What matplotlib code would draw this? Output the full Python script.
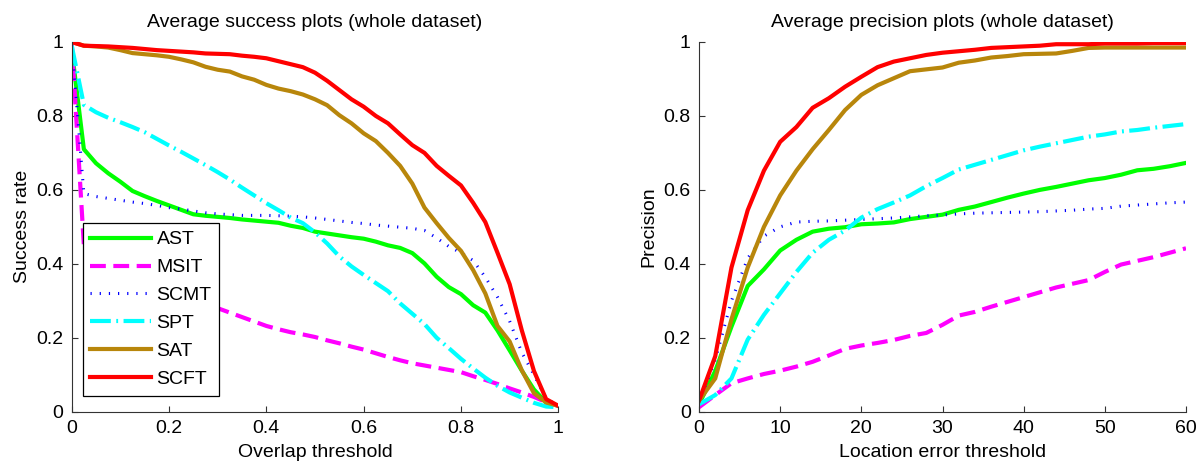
import matplotlib
matplotlib.use("Agg")
import matplotlib.pyplot as plt
import numpy as np

plt.rcParams["font.family"] = ["Liberation Sans", "DejaVu Sans"]

methods = ["AST", "MSIT", "SCMT", "SPT", "SAT", "SCFT"]

# success plot: overlap thresholds 0..1, step 0.025
overlap = np.linspace(0, 1, 41)
success = {
    "AST": [0.98, 0.71, 0.672, 0.645, 0.622, 0.597, 0.583, 0.57, 0.558, 0.546,
            0.534, 0.53, 0.527, 0.524, 0.52, 0.517, 0.514, 0.511, 0.503, 0.497,
            0.487, 0.482, 0.477, 0.472, 0.468, 0.46, 0.45, 0.443, 0.429, 0.401,
            0.365, 0.337, 0.318, 0.288, 0.268, 0.22, 0.166, 0.111, 0.06, 0.025, 0.016],
    "MSIT": [1.0, 0.45, 0.41, 0.39, 0.375, 0.365, 0.355, 0.345, 0.335, 0.322,
             0.31, 0.297, 0.28, 0.268, 0.256, 0.244, 0.232, 0.223, 0.215, 0.209,
             0.202, 0.193, 0.185, 0.176, 0.168, 0.158, 0.148, 0.139, 0.131, 0.125,
             0.119, 0.113, 0.107, 0.096, 0.086, 0.075, 0.063, 0.052, 0.04, 0.026, 0.016],
    "SCMT": [1.0, 0.59, 0.582, 0.577, 0.572, 0.567, 0.563, 0.558, 0.552, 0.548,
             0.543, 0.538, 0.535, 0.533, 0.531, 0.531, 0.531, 0.53, 0.529, 0.527,
             0.524, 0.52, 0.516, 0.512, 0.509, 0.505, 0.502, 0.499, 0.496, 0.49,
             0.47, 0.447, 0.43, 0.409, 0.364, 0.31, 0.245, 0.16, 0.1, 0.035, 0.016],
    "SPT": [0.99, 0.83, 0.81, 0.795, 0.783, 0.77, 0.756, 0.738, 0.72, 0.703,
            0.685, 0.667, 0.648, 0.628, 0.606, 0.585, 0.564, 0.545, 0.525, 0.51,
            0.485, 0.455, 0.42, 0.393, 0.37, 0.348, 0.326, 0.293, 0.265, 0.237,
            0.2, 0.172, 0.143, 0.117, 0.092, 0.07, 0.052, 0.038, 0.024, 0.014, 0.012],
    "SAT": [1.0, 0.99, 0.988, 0.985, 0.978, 0.97, 0.967, 0.964, 0.96, 0.953,
            0.945, 0.933, 0.925, 0.92, 0.907, 0.898, 0.884, 0.874, 0.867, 0.858,
            0.845, 0.829, 0.802, 0.78, 0.753, 0.732, 0.7, 0.665, 0.617, 0.552,
            0.51, 0.47, 0.435, 0.383, 0.32, 0.232, 0.19, 0.112, 0.05, 0.025, 0.016],
    "SCFT": [1.0, 0.99, 0.989, 0.988, 0.986, 0.984, 0.981, 0.978, 0.976, 0.974,
             0.972, 0.969, 0.968, 0.967, 0.963, 0.96, 0.956, 0.948, 0.94, 0.932,
             0.917, 0.895, 0.87, 0.845, 0.825, 0.8, 0.78, 0.75, 0.721, 0.7,
             0.665, 0.638, 0.612, 0.565, 0.513, 0.43, 0.345, 0.22, 0.11, 0.034, 0.016],
}

# precision plot: location error thresholds 0..60, step 2
location = np.arange(0, 61, 2)
precision = {
    "AST": [0.02, 0.11, 0.23, 0.34, 0.385, 0.436, 0.465, 0.487, 0.495, 0.499,
            0.507, 0.509, 0.512, 0.521, 0.527, 0.533, 0.546, 0.555, 0.567, 0.579,
            0.59, 0.6, 0.608, 0.617, 0.626, 0.632, 0.641, 0.653, 0.657, 0.664, 0.673],
    "MSIT": [0.012, 0.045, 0.077, 0.09, 0.102, 0.111, 0.122, 0.135, 0.152, 0.17,
             0.179, 0.186, 0.194, 0.205, 0.213, 0.235, 0.26, 0.27, 0.284, 0.297,
             0.31, 0.323, 0.336, 0.346, 0.356, 0.378, 0.398, 0.408, 0.418, 0.43, 0.442],
    "SCMT": [0.02, 0.14, 0.3, 0.415, 0.475, 0.5, 0.513, 0.515, 0.516, 0.518,
             0.52, 0.522, 0.524, 0.527, 0.53, 0.532, 0.535, 0.537, 0.538, 0.539,
             0.54, 0.541, 0.543, 0.545, 0.548, 0.55, 0.556, 0.559, 0.562, 0.565, 0.567],
    "SPT": [0.02, 0.045, 0.09, 0.195, 0.262, 0.32, 0.378, 0.43, 0.465, 0.49,
            0.525, 0.548, 0.566, 0.585, 0.61, 0.632, 0.655, 0.668, 0.681, 0.694,
            0.707, 0.717, 0.726, 0.735, 0.744, 0.75, 0.758, 0.762, 0.768, 0.773, 0.778],
    "SAT": [0.03, 0.09, 0.25, 0.39, 0.5, 0.585, 0.652, 0.71, 0.762, 0.816,
            0.857, 0.883, 0.902, 0.921, 0.926, 0.931, 0.944, 0.95, 0.958, 0.962,
            0.967, 0.968, 0.969, 0.976, 0.984, 0.985, 0.985, 0.985, 0.985, 0.985, 0.985],
    "SCFT": [0.03, 0.15, 0.39, 0.545, 0.652, 0.73, 0.77, 0.822, 0.848, 0.879,
             0.906, 0.932, 0.947, 0.956, 0.965, 0.971, 0.975, 0.979, 0.984, 0.986,
             0.988, 0.99, 0.994, 0.994, 0.994, 0.996, 0.996, 0.996, 0.997, 0.997, 0.997],
}

styles = {
    "AST": dict(color="#00ff00", linestyle="-", linewidth=3.0),
    "MSIT": dict(color="#ff00ff", linestyle=(0, (3.8, 1.8)), linewidth=3.0),
    "SCMT": dict(color="#0000ff", linestyle=(0, (0.4, 2.6)), linewidth=2.2),
    "SPT": dict(color="#00ffff", linestyle=(0, (5, 1.3, 0.45, 1.3)), linewidth=3.0),
    "SAT": dict(color="#b8860b", linestyle="-", linewidth=3.0),
    "SCFT": dict(color="#ff0000", linestyle="-", linewidth=3.0),
}

fs = 14

fig = plt.figure(figsize=(12.03, 4.66), dpi=100)
ax_s = fig.add_axes([71.7 / 1203, 54.3 / 466, 486.6 / 1203, 369.7 / 466])
ax_p = fig.add_axes([699 / 1203, 54.3 / 466, 487 / 1203, 369.7 / 466])

for m in methods:
    ax_s.plot(overlap, success[m], label=m, **styles[m])
    ax_p.plot(location, precision[m], label=m, **styles[m])


def style_axis(ax, xticks, xlabels, xlabel, ylabel, title):
    ax.set_ylim(0, 1)
    ax.set_yticks([0, 0.2, 0.4, 0.6, 0.8, 1])
    ax.set_yticklabels(["0", "0.2", "0.4", "0.6", "0.8", "1"])
    ax.set_xticks(xticks)
    ax.set_xticklabels(xlabels)
    ax.set_xlim(xticks[0], xticks[-1])
    for side in ("top", "right"):
        ax.spines[side].set_visible(False)
    for side in ("left", "bottom"):
        ax.spines[side].set_color("#333333")
        ax.spines[side].set_linewidth(0.8)
    ax.tick_params(direction="in", length=4, width=0.8, color="#333333",
                   labelsize=fs, pad=6)
    ax.set_xlabel(xlabel, fontsize=fs, labelpad=5)
    ax.set_ylabel(ylabel, fontsize=fs, labelpad=4)
    ax.set_title(title, fontsize=fs, pad=11)


style_axis(ax_s, [0, 0.2, 0.4, 0.6, 0.8, 1], ["0", "0.2", "0.4", "0.6", "0.8", "1"],
           "Overlap threshold", "Success rate", "Average success plots (whole dataset)")
style_axis(ax_p, [0, 10, 20, 30, 40, 50, 60], ["0", "10", "20", "30", "40", "50", "60"],
           "Location error threshold", "Precision", "Average precision plots (whole dataset)")

leg = ax_s.legend(loc="lower left", bbox_to_anchor=(0.0226, 0.043), borderaxespad=0,
                  fontsize=fs, frameon=True, fancybox=False, framealpha=1,
                  edgecolor="black", handlelength=3.1, handletextpad=0.3,
                  labelspacing=0.53, borderpad=0.4)
leg.get_frame().set_linewidth(0.9)

fig.savefig("out.png", dpi=100)
